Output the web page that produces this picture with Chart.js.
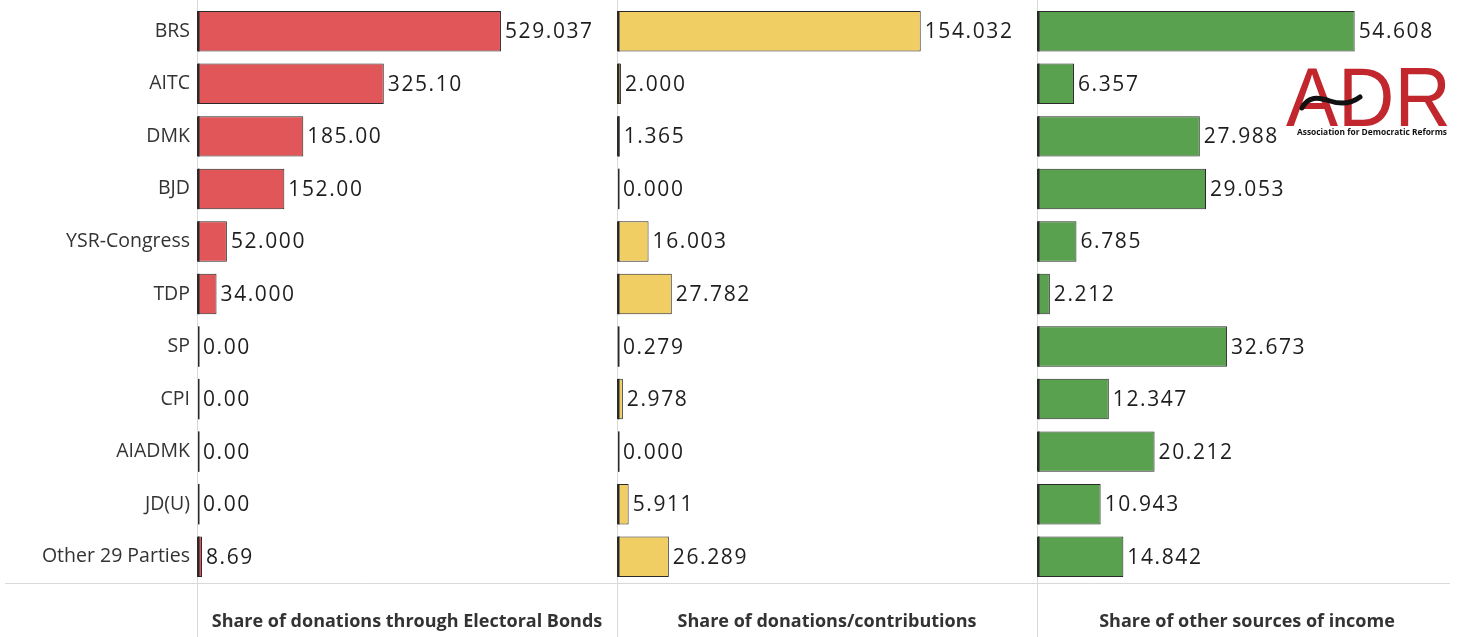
<!DOCTYPE html>
<html>
<head>
<meta charset="utf-8">
<script src="https://cdn.jsdelivr.net/npm/chart.js@4.4.1/dist/chart.umd.min.js"></script>
<style>
  html, body { margin: 0; padding: 0; background: #fff; }
  #wrap { width: 1460px; height: 637px; position: relative; }
</style>
</head>
<body>
<div id="wrap"><canvas id="myChart" width="1460" height="637"></canvas></div>
<script>
// data
var parties = ['BRS', 'AITC', 'DMK', 'BJD', 'YSR-Congress', 'TDP', 'SP', 'CPI', 'AIADMK', 'JD(U)', 'Other 29 Parties']
var bondShare = ['529.037', '325.10', '185.00', '152.00', '52.000', '34.000', '0.00', '0.00', '0.00', '0.00', '8.69']
var donationShare = ['154.032', '2.000', '1.365', '0.000', '16.003', '27.782', '0.279', '2.978', '0.000', '5.911', '26.289']
var otherShare = ['54.608', '6.357', '27.988', '29.053', '6.785', '2.212', '32.673', '12.347', '20.212', '10.943', '14.842']
var panelTitles = ['Share of donations through Electoral Bonds', 'Share of donations/contributions', 'Share of other sources of income']
var panelMax = [731, 213, 72.2]

var FONT = '"Open Sans", "Noto Sans", sans-serif'

function makeSet(values, color, axis) {
    return {
        data: values.map(Number),
        valueText: values,
        xAxisID: axis,
        backgroundColor: color,
        borderColor: '#2a2a2a',
        borderWidth: 1,
        borderSkipped: false,
        grouped: false,
        categoryPercentage: 0.77,
        barPercentage: 1
    }
}

var data = {
    labels: parties,
    datasets: [
        makeSet(bondShare, '#e15759', 'x1'),
        makeSet(donationShare, '#f1ce63', 'x2'),
        makeSet(otherShare, '#59a14f', 'x3')
    ]
}

function panelAxis(max) {
    return {
        type: 'linear',
        position: 'bottom',
        stack: 'panels',
        stackWeight: 1,
        min: 0,
        max: max,
        grid: { display: false, drawTicks: false, tickLength: 0 },
        border: { display: false },
        ticks: { display: false },
        afterFit: function (scale) {
            scale.height = 0
            scale.paddingLeft = 0
            scale.paddingRight = 0
        }
    }
}

// grey frame lines behind the bars
var framePlugin = {
    id: 'frame',
    beforeDatasetsDraw: function (chart) {
        var ctx = chart.ctx
        var area = chart.chartArea
        ctx.save()
        ctx.strokeStyle = '#d9d9d9'
        ctx.lineWidth = 1
        ctx.beginPath()
        ctx.moveTo(5, Math.round(area.bottom) + 0.5)
        ctx.lineTo(1450, Math.round(area.bottom) + 0.5)
        ;['x1', 'x2', 'x3'].forEach(function (id) {
            var x = Math.round(chart.scales[id].left) + 0.5
            ctx.moveTo(x, 0)
            ctx.lineTo(x, chart.height)
        })
        ctx.stroke()
        ctx.restore()
    },
    afterDatasetsDraw: function (chart) {
        var ctx = chart.ctx
        ctx.save()
        chart.data.datasets.forEach(function (ds, i) {
            var meta = chart.getDatasetMeta(i)
            meta.data.forEach(function (bar, j) {
                var p = bar.getProps(['x', 'y', 'base', 'height'], true)
                // dark base line, visible even for zero bars
                ctx.fillStyle = '#2a2a2a'
                ctx.fillRect(p.base + 1, p.y - p.height / 2, 1.5, p.height)
                // value label
                ctx.fillStyle = '#1e1e1e'
                ctx.font = '21px ' + FONT
                ctx.letterSpacing = '1.6px'
                ctx.textAlign = 'left'
                ctx.textBaseline = 'middle'
                ctx.fillText(ds.valueText[j], Math.max(p.x, p.base + 2) + 4, p.y + 1)
            })
        })
        // panel titles
        ctx.letterSpacing = '0px'
        ctx.font = 'bold 18px ' + FONT
        ctx.fillStyle = '#333'
        ctx.textAlign = 'center'
        ctx.textBaseline = 'middle'
        ;['x1', 'x2', 'x3'].forEach(function (id, k) {
            var s = chart.scales[id]
            ctx.fillText(panelTitles[k], (s.left + s.right) / 2, 622)
        })
        ctx.restore()
    },
    afterDraw: function (chart) {
        // ADR logo
        var ctx = chart.ctx
        ctx.save()
        ctx.fillStyle = '#c1272d'
        ctx.font = '84px "Liberation Sans", Arial, sans-serif'
        ctx.textAlign = 'left'
        ctx.textBaseline = 'alphabetic'
        ctx.translate(1286, 126)
        ctx.scale(0.93, 1)
        ctx.fillText('ADR', 0, 0)
        ctx.restore()

        ctx.save()
        ctx.strokeStyle = '#111'
        ctx.lineWidth = 5
        ctx.lineCap = 'round'
        ctx.beginPath()
        ctx.moveTo(1302, 108)
        ctx.bezierCurveTo(1308, 96, 1318, 97, 1330, 101)
        ctx.bezierCurveTo(1342, 105, 1352, 103, 1360, 97)
        ctx.stroke()
        ctx.fillStyle = '#111'
        ctx.font = 'bold 9px ' + FONT
        ctx.textAlign = 'left'
        ctx.textBaseline = 'middle'
        ctx.fillText('Association for Democratic Reforms', 1297, 132, 150)
        ctx.restore()
    }
}

var options = {
    animation: false,
    responsive: false,
    indexAxis: 'y',
    layout: { padding: { top: 5, bottom: 54, left: 0, right: 3 } },
    scales: {
        y: {
            type: 'category',
            position: 'left',
            grid: { display: false, drawTicks: false, tickLength: 0 },
            border: { display: false },
            ticks: {
                color: '#333',
                padding: 7,
                font: { family: FONT, size: 19.5 }
            },
            afterFit: function (scale) {
                scale.width = 197
                scale.paddingTop = 0
                scale.paddingBottom = 0
            }
        },
        x1: panelAxis(panelMax[0]),
        x2: panelAxis(panelMax[1]),
        x3: panelAxis(panelMax[2])
    },
    plugins: {
        legend: { display: false },
        tooltip: { enabled: false }
    }
}

var ctx = document.getElementById('myChart').getContext('2d')

var myChart = new Chart(ctx, {
    type: 'bar',
    data: data,
    options: options,
    plugins: [framePlugin]
})
</script>
</body>
</html>
